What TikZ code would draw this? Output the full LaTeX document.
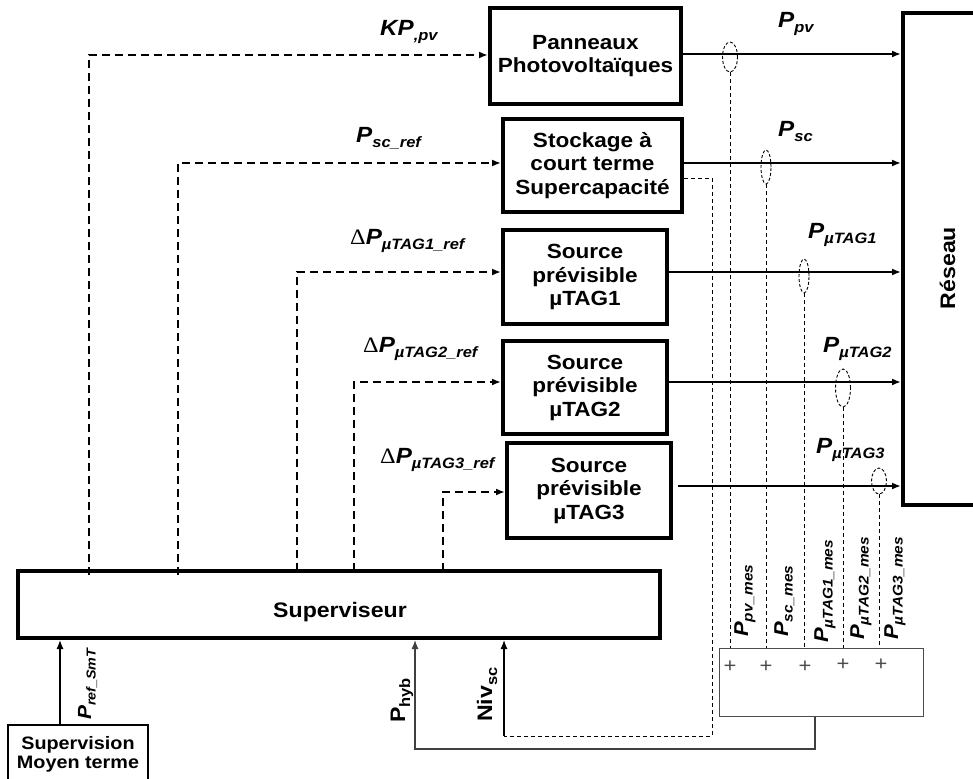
\documentclass[tikz,border=0pt]{standalone}
\usepackage{fontspec}
\setmainfont{Liberation Sans}[FakeStretch=1.1]
\newfontfamily\deltafont{Liberation Serif}[FakeStretch=1.1]
\usetikzlibrary{arrows.meta,shapes.geometric,calc}

% subscripts for the signal names
\newcommand\lsub[1]{\raisebox{-5pt}{\fontsize{15}{15}\selectfont #1}}
\newcommand\msub[1]{\raisebox{-4.5pt}{\fontsize{14}{14}\selectfont #1}}
\newcommand\ssub[1]{\raisebox{-4.5pt}{\fontsize{13}{13}\selectfont #1}}
\newcommand\dlt{{\deltafont\mdseries\upshape Δ}}

\begin{document}
\begin{tikzpicture}[x=1pt,y=-1pt,
  blk/.style={draw, line width=4pt, align=center, inner sep=0pt,
    font=\fontsize{20.5}{23.5}\selectfont\bfseries},
  tip/.style={-{Latex[length=9pt,width=7pt]}},
  pow/.style={line width=1.8pt, tip},
  ctrl/.style={line width=2.2pt, dash pattern=on 8pt off 5pt, tip},
  meas/.style={line width=0.9pt, dash pattern=on 4pt off 3pt},
  ell/.style={draw, ellipse, inner sep=0pt, line width=0.9pt, dash pattern=on 3pt off 2pt},
  fb/.style={line width=1.2pt, black!75},
  lab/.style={inner sep=0pt, anchor=base west, font=\fontsize{22}{22}\selectfont\bfseries\itshape},
  mlab/.style={inner sep=0pt, anchor=base west, rotate=90, font=\fontsize{20}{20}\selectfont\bfseries\itshape},
  plus/.style={inner sep=0pt, text=black!70, font=\fontsize{20}{20}\selectfont},
]
\useasboundingbox (0,0) rectangle (973,778);
\clip (0,0) rectangle (973,778);
\fill[white] (0,0) rectangle (973,778);

% source blocks
\node[blk, minimum width=191pt, minimum height=96pt] (pv) at (585.5,56) {Panneaux\\Photovoltaïques};
\node[blk, minimum width=179pt, minimum height=93pt] (stock) at (592.5,165.5) {Stockage à\\court terme\\Supercapacité};
\node[blk, minimum width=164pt, minimum height=94pt] (tag1) at (585,277) {Source\\prévisible\\µTAG1};
\node[blk, minimum width=164pt, minimum height=93pt] (tag2) at (585,387.5) {Source\\prévisible\\µTAG2};
\node[blk, minimum width=164pt, minimum height=95pt] (tag3) at (589,490.5) {Source\\prévisible\\µTAG3};

% grid
\node[draw, line width=4pt, minimum width=110pt, minimum height=492pt, inner sep=0pt] (res) at (958,259) {};
\node[inner sep=0pt, anchor=base, rotate=90, font=\fontsize{21}{21}\selectfont\bfseries] (restext) at (955,268) {Réseau};

% supervisor
\node[draw, line width=4pt, minimum width=642pt, minimum height=67pt, inner sep=0pt] (sup) at (339,604.5) {};
\node[inner sep=0pt, font=\fontsize{21}{21}\selectfont\bfseries] (suptext) at (340,612) {Superviseur};

% medium-term supervision
\node[draw, line width=1.5pt, minimum width=140pt, minimum height=80pt, inner sep=0pt] (smt) at (78,765) {};
\node[inner sep=0pt, align=center, font=\fontsize{18}{19}\selectfont\bfseries] (smttext) at (78,754) {Supervision\\Moyen terme};

% measurement summation block
\node[draw, black!70, line width=1pt, minimum width=204pt, minimum height=68pt, inner sep=0pt] (sum) at (821,682) {};
\node[plus] (p1) at (730,667) {+};
\node[plus] (p2) at (766,667) {+};
\node[plus] (p3) at (805,667) {+};
\node[plus] (p4) at (843,665) {+};
\node[plus] (p5) at (881,665) {+};

% measurement pick-ups
\node[ell, minimum width=15pt, minimum height=30pt] (e1) at (730,57) {};
\node[ell, minimum width=10pt, minimum height=34pt] (e2) at (766,167) {};
\node[ell, minimum width=10pt, minimum height=34pt] (e3) at (804,276) {};
\node[ell, minimum width=15pt, minimum height=38pt] (e4) at (843,388) {};
\node[ell, minimum width=15pt, minimum height=26pt] (e5) at (879,481) {};

% power flows to the grid
\draw[pow] ([yshift=2pt]pv.east) -- ([yshift=2pt]pv.east -| res.west);
\draw[pow] ([yshift=2.5pt]stock.east) -- ([yshift=2.5pt]stock.east -| res.west);
\draw[pow] ([yshift=5pt]tag1.east) -- ([yshift=5pt]tag1.east -| res.west);
\draw[pow] ([yshift=5.5pt]tag2.east) -- ([yshift=5.5pt]tag2.east -| res.west);
\draw[pow] ([xshift=5pt,yshift=4.5pt]tag3.east) -- ([yshift=4.5pt]tag3.east -| res.west);

% references from the supervisor
\draw[ctrl] ([yshift=-6pt]sup.north -| 89,0) |- ([yshift=1pt]pv.west);
\draw[ctrl] ([yshift=-6pt]sup.north -| 178,0) |- ([yshift=2.5pt]stock.west);
\draw[ctrl] ([yshift=-2pt]sup.north -| 297,0) |- ([yshift=5pt]tag1.west);
\draw[ctrl] ([yshift=-2pt]sup.north -| 354,0) |- ([yshift=5.5pt]tag2.west);
\draw[ctrl] ([yshift=-2pt]sup.north -| 443,0) |- ([yshift=-1.5pt]tag3.west);

% measured powers
\draw[meas] (e1.south) -- (e1.south |- sum.north);
\draw[meas] (e2.south) -- (e2.south |- sum.north);
\draw[meas] (e3.south) -- (e3.south |- sum.north);
\draw[meas] (e4.south) -- (e4.south |- sum.north);
\draw[meas] (e5.south) -- (e5.south |- sum.north);

% supercapacitor state of charge
\coordinate (niv) at (504,736);
\draw[meas] ([yshift=-12.5pt]stock.east) -| (712,736) -- (niv);
\draw[line width=1.2pt, tip] (niv) -- (sup.south -| niv);

% hybrid power feedback
\coordinate (hyb) at (415,749);
\draw[fb, tip] (sum.south -| 815,0) |- (hyb) -- (sup.south -| hyb);

% medium-term reference
\draw[line width=1.2pt, tip] (smt.north -| 60,0) -- (sup.south -| 60,0);

% signal names
\node[lab] (lkp) at (380,36) {KP\lsub{,pv}};
\node[lab] (lscref) at (356,143) {P\lsub{sc\_ref}};
\node[lab] (lt1ref) at (350,244) {\dlt P\lsub{µTAG1\_ref}};
\node[lab] (lt2ref) at (363,352) {\dlt P\lsub{µTAG2\_ref}};
\node[lab] (lt3ref) at (380,463) {\dlt P\lsub{µTAG3\_ref}};
\node[lab] (lppv) at (778,28) {P\lsub{pv}};
\node[lab] (lpsc) at (778,137) {P\lsub{sc}};
\node[lab] (lpt1) at (808,238) {P\lsub{µTAG1}};
\node[lab] (lpt2) at (823,352) {P\lsub{µTAG2}};
\node[lab] (lpt3) at (816,453) {P\lsub{µTAG3}};

\node[mlab, font=\fontsize{19}{19}\selectfont\bfseries\itshape] (lsmt) at (91,720) {P\ssub{ref\_SmT}};
\node[mlab, font=\fontsize{21}{21}\selectfont\bfseries] (lhyb) at (405,723) {P\lsub{hyb}};
\node[mlab, font=\fontsize{21}{21}\selectfont\bfseries] (lniv) at (492,722) {Niv\lsub{sc}};

\node[mlab] (mpv) at (748,637) {P\msub{pv\_mes}};
\node[mlab] (msc) at (788,637) {P\msub{sc\_mes}};
\node[mlab] (mt1) at (828,643) {P\msub{µTAG1\_mes}};
\node[mlab] (mt2) at (864,640) {P\msub{µTAG2\_mes}};
\node[mlab] (mt3) at (898,640) {P\msub{µTAG3\_mes}};
\end{tikzpicture}
\end{document}
